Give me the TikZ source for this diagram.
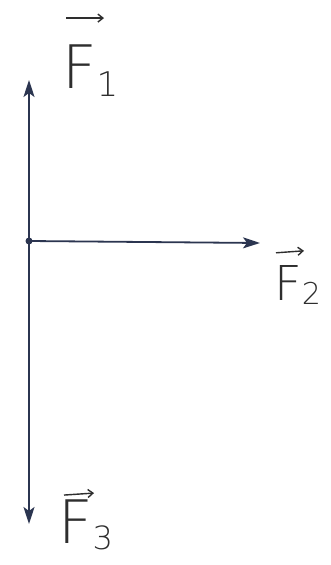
\documentclass[tikz,border=0pt]{standalone}
\usepackage{fontspec}
\setmainfont{DejaVu Sans}[UprightFont=* ExtraLight]
\usetikzlibrary{arrows.meta}
\definecolor{ink}{HTML}{2B3550}
\definecolor{pencil}{HTML}{2E2E2E}
\begin{document}
\begin{tikzpicture}[x=1pt,y=1pt,
  vec/.style={draw=ink,line width=1.8pt,-{Stealth[length=17pt,width=11pt,inset=4pt]}},
  lab/.style={text=pencil,inner sep=0pt,anchor=base west,font=\fontsize{60}{60}\selectfont},
  over/.style={draw=pencil,line width=1.4pt,-{Straight Barb[length=5pt,width=8pt]}}]
\useasboundingbox (0,0) rectangle (331,-565);
\fill[white] (0,0) rectangle (331,-565);
\coordinate (O) at (29,-241);
\coordinate (T1) at (29,-80);
\coordinate (T2) at (260,-243);
\coordinate (T3) at (29,-524);
\draw[vec] (O) -- (T1);
\draw[vec] (O) -- (T2);
\draw[vec] (O) -- (T3);
\fill[ink] (O) circle (3.5pt);
\node[lab] (F1) at (62,-88) {F\raisebox{-8pt}{\fontsize{34}{34}\selectfont 1}};
\node[lab,font=\fontsize{48}{48}\selectfont] (F2) at (274,-300) {F\raisebox{-4pt}{\fontsize{30}{30}\selectfont 2}};
\node[lab] (F3) at (58,-543) {F\raisebox{-6pt}{\fontsize{32}{32}\selectfont 3}};
\draw[over] ([xshift=4pt,yshift=26pt]F1.north west) -- ++(38,0);
\draw[over] ([xshift=2pt,yshift=12pt]F2.north west) -- ++(28,2);
\draw[over] ([xshift=6pt,yshift=4pt]F3.north west) -- ++(30,2);
\end{tikzpicture}
\end{document}
